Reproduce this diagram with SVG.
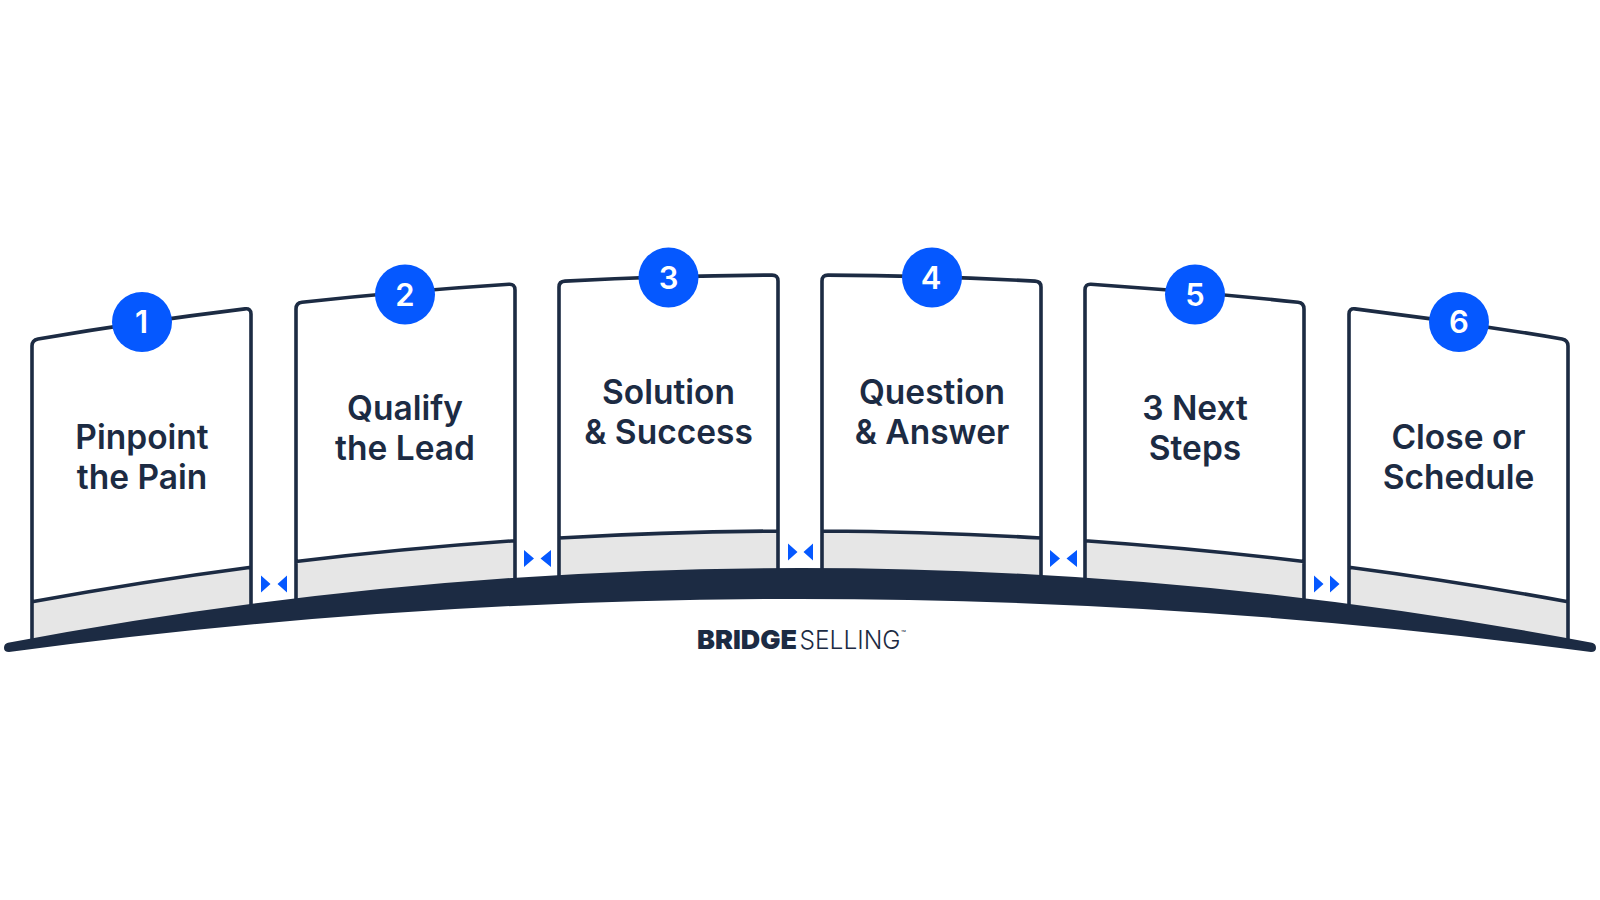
<svg xmlns="http://www.w3.org/2000/svg" width="1600" height="900" viewBox="0 0 1600 900">
<style>
.o{fill:none;stroke:#1c2b43;stroke-width:3.6}
.g{fill:#e6e6e6;stroke:none}
.c{fill:#0558ff}
.n{font-family:Inter,"Liberation Sans",sans-serif;font-size:31px;font-weight:600;fill:#fff;text-anchor:middle}
.t{font-family:Inter,"Liberation Sans",sans-serif;font-size:33.500px;font-weight:600;fill:#1c2b43;text-anchor:middle}
.a{fill:#0558ff}
.l{font-family:Inter,"Liberation Sans",sans-serif;font-size:26px;fill:#1c2b43}
</style>
<rect width="1600" height="900" fill="#fff"/>
<g id="card1">
<path class="g" d="M32 601.800Q141.500 581.600 251 567.200V612L32 642Z"/>
<path class="o" d="M32 642V346Q32 340 38 338.900Q141.500 321.500 245 308.900Q251 308.200 251 314V610M32 601.800Q141.500 581.600 251 567.200"/>
<circle class="c" cx="142" cy="322" r="30"/>
<text class="n" x="141.500" y="333">1</text>
<text class="t" x="142" y="448.500">Pinpoint</text><text class="t" x="142" y="488.500">the Pain</text>
</g>
<g id="card2">
<path class="g" d="M296 561.500Q405.500 548.300 515 540.700V590L296 605Z"/>
<path class="o" d="M296 605V309Q296 303 302 302.300Q405.500 291 509 284.300Q515 283.900 515 290V590M296 561.500Q405.500 548.300 515 540.700"/>
<circle class="c" cx="405" cy="294.500" r="30"/>
<text class="n" x="405" y="305.500">2</text>
<text class="t" x="405" y="420">Qualify</text><text class="t" x="405" y="460">the Lead</text>
</g>
<g id="card3">
<path class="g" d="M559 538Q668.500 531.700 778 531.060V580L559 585Z"/>
<path class="o" d="M559 585V287Q559 281.400 565 281.100Q668.500 275.700 772 275.100Q778 275.050 778 281V580M559 538Q668.500 531.700 778 531.060"/>
<circle class="c" cx="668.500" cy="277.500" r="30"/>
<text class="n" x="668.500" y="288.500">3</text>
<text class="t" x="668.500" y="403.500">Solution</text><text class="t" x="668.500" y="443.500">&amp; Success</text>
</g>
<g id="card4">
<path class="g" d="M1041 538Q931.500 531.700 822 531.060V580L1041 585Z"/>
<path class="o" d="M1041 585V287Q1041 281.400 1035 281.100Q931.500 275.700 828 275.100Q822 275.050 822 281V580M1041 538Q931.500 531.700 822 531.060"/>
<circle class="c" cx="932" cy="277.500" r="30"/>
<text class="n" x="931" y="288.500">4</text>
<text class="t" x="932" y="403.500">Question</text><text class="t" x="932" y="443.500">&amp; Answer</text>
</g>
<g id="card5">
<path class="g" d="M1304 561.500Q1194.500 548.300 1085 540.700V590L1304 605Z"/>
<path class="o" d="M1304 605V309Q1304 303 1298 302.300Q1194.500 291 1091 284.300Q1085 283.900 1085 290V590M1304 561.500Q1194.500 548.300 1085 540.700"/>
<circle class="c" cx="1195" cy="294.500" r="30"/>
<text class="n" x="1195" y="305.500">5</text>
<text class="t" x="1195" y="420">3 Next</text><text class="t" x="1195" y="460">Steps</text>
</g>
<g id="card6">
<path class="g" d="M1568 601.800Q1458.500 581.600 1349 567.200V612L1568 642Z"/>
<path class="o" d="M1568 642V346Q1568 340 1562 338.900Q1458.500 321.500 1355 308.900Q1349 308.200 1349 314V610M1568 601.800Q1458.500 581.600 1349 567.200"/>
<circle class="c" cx="1459" cy="322" r="30"/>
<text class="n" x="1459" y="333">6</text>
<text class="t" x="1458.500" y="448.500">Close or</text><text class="t" x="1458.500" y="488.500">Schedule</text>
</g>
<g id="connectors">
<path class="a" d="M261 575.500L270.500 584L261 592.500ZM287 575.500L277.500 584L287 592.500Z"/>
<path class="a" d="M524 550L534 558.500L524 567ZM551 550L540.500 558.500L551 567Z"/>
<path class="a" d="M788 543.500L797.500 552L788 560.500ZM813 543.500L803.500 552L813 560.500Z"/>
<path class="a" d="M1050 550L1060 558.500L1050 567ZM1077 550L1066.500 558.500L1077 567Z"/>
<path class="a" d="M1314 575.500L1323.500 584L1314 592.500ZM1330 575.500L1339.500 584L1330 592.500Z"/>
</g>
<g id="arch">
<path fill="#1c2b43" d="M8 642.800Q800 493.200 1592 642.800Q1596 643.800 1596 648Q1596 652 1591 652Q800 546 9 652Q4 652 4 648Q4 643.800 8 642.800Z"/>
</g>
<g id="logo">
<text class="l" x="697" y="649" font-weight="900" textLength="100" lengthAdjust="spacingAndGlyphs">BRIDGE</text>
<text class="l" x="799.500" y="649" font-weight="300" textLength="101" lengthAdjust="spacingAndGlyphs">SELLING</text>
<text x="901" y="635.500" font-family="Inter,'Liberation Sans',sans-serif" font-size="8" fill="#1c2b43">™</text>
</g>
</svg>
